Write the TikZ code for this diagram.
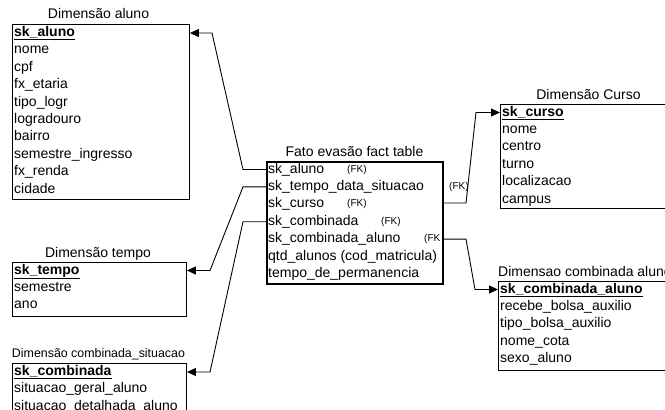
\documentclass[tikz,border=0pt]{standalone}
\usepackage{fontspec}
\setmainfont{Liberation Sans}
\usetikzlibrary{arrows.meta}
\tikzset{
  tbl/.style={draw, line width=0.9pt, rectangle, inner sep=0pt, anchor=north west},
  facttbl/.style={draw, line width=2pt, rectangle, inner sep=0pt, anchor=north west},
  row/.style={anchor=west, inner sep=0pt, text height=10pt, text depth=3pt, font=\fontsize{14}{16}\selectfont},
  ttl/.style={inner sep=0pt, text height=10pt, text depth=3pt, font=\fontsize{14}{16}\selectfont},
  fk/.style={anchor=west, inner sep=0pt, text height=7pt, text depth=2pt, font=\fontsize{10}{12}\selectfont},
  conn/.style={line width=0.9pt, -{Triangle[length=9pt,width=8pt]}},
}
\newcommand{\keyrow}[1]{\underline{\textbf{#1}}}
\begin{document}
\begin{tikzpicture}[x=1pt,y=-1pt]
\clip (0,0) rectangle (665,410);
\fill[white] (0,0) rectangle (665,410);

% ---------- Dimensao aluno ----------
\node[ttl] (alunottl) at (98.5,15) {Dimensão aluno};
\node[tbl, minimum width=177pt, minimum height=175pt] (aluno) at (12,24) {};
\node[row] (a1) at (14,33) {\keyrow{sk\_aluno}};
\node[row] (a2) at (14,50.4) {nome};
\node[row] (a3) at (14,67.8) {cpf};
\node[row] (a4) at (14,85.2) {fx\_etaria};
\node[row] (a5) at (14,102.6) {tipo\_logr};
\node[row] (a6) at (14,120) {logradouro};
\node[row] (a7) at (14,137.4) {bairro};
\node[row] (a8) at (14,154.8) {semestre\_ingresso};
\node[row] (a9) at (14,172.2) {fx\_renda};
\node[row] (a10) at (14,189.6) {cidade};

% ---------- Dimensao tempo ----------
\node[ttl] (tempottl) at (98,254) {Dimensão tempo};
\node[tbl, minimum width=174pt, minimum height=54pt] (tempo) at (12,262) {};
\node[row] (t1) at (14,270.5) {\keyrow{sk\_tempo}};
\node[row] (t2) at (14,287.9) {semestre};
\node[row] (t3) at (14,305.3) {ano};

% ---------- Dimensao combinada_situacao ----------
\node[ttl, font=\fontsize{12.4}{14}\selectfont] (sitttl) at (98.5,354) {Dimensão combinada\_situacao};
\node[tbl, minimum width=174pt, minimum height=70pt] (sit) at (12,363) {};
\node[row] (s1) at (14,372) {\keyrow{sk\_combinada}};
\node[row] (s2) at (14,389.4) {situacao\_geral\_aluno};
\node[row] (s3) at (14,406.8) {situacao\_detalhada\_aluno};

% ---------- Fato ----------
\node[ttl] (factttl) at (354.5,153) {Fato evasão fact table};
\node[facttbl, minimum width=176pt, minimum height=122pt] (fact) at (266,161) {};
\node[row] (f1) at (268,169.5) {sk\_aluno};
\node[row] (f2) at (268,186.9) {sk\_tempo\_data\_situacao};
\node[row] (f3) at (268,204.3) {sk\_curso};
\node[row] (f4) at (268,221.7) {sk\_combinada};
\node[row] (f5) at (268,239.1) {sk\_combinada\_aluno};
\node[row] (f6) at (268,256.5) {qtd\_alunos (cod\_matricula)};
\node[row] (f7) at (268,273.9) {tempo\_de\_permanencia};
\node[fk] (fk1) at (347,169.5) {(FK)};
\node[fk] (fk2) at (449,186.9) {(FK)};
\node[fk] (fk3) at (347,204.3) {(FK)};
\node[fk] (fk4) at (381,221.7) {(FK)};
\node[fk] (fk5) at (424,239.1) {(FK};

% ---------- Dimensao Curso ----------
\node[ttl] (cursottl) at (588.5,96) {Dimensão Curso};
\node[tbl, minimum width=190pt, minimum height=104pt] (curso) at (500,104) {};
\node[row] (c1) at (502,112.5) {\keyrow{sk\_curso}};
\node[row] (c2) at (502,129.9) {nome};
\node[row] (c3) at (502,147.3) {centro};
\node[row] (c4) at (502,164.7) {turno};
\node[row] (c5) at (502,182.1) {localizacao};
\node[row] (c6) at (502,199.5) {campus};

% ---------- Dimensao combinada aluno ----------
\node[ttl, anchor=west] (kttl) at (498,273) {Dimensao combinada aluno};
\node[tbl, minimum width=190pt, minimum height=89pt] (comb) at (498,281) {};
\node[row] (k1) at (500,289.5) {\keyrow{sk\_combinada\_aluno}};
\node[row] (k2) at (500,306.9) {recebe\_bolsa\_auxilio};
\node[row] (k3) at (500,324.3) {tipo\_bolsa\_auxilio};
\node[row] (k4) at (500,341.7) {nome\_cota};
\node[row] (k5) at (500,359.1) {sexo\_aluno};

% ---------- connectors ----------
\coordinate (j1a) at (243,169.5);
\coordinate (j1b) at (212,33);
\draw[conn] (fact.west |- f1) -- (j1a) -- (j1b) -- (aluno.east |- a1);

\coordinate (j2a) at (243,186.9);
\coordinate (j2b) at (210,270.5);
\draw[conn] (fact.west |- f2) -- (j2a) -- (j2b) -- (tempo.east |- t1);

\coordinate (j3a) at (243,221.7);
\coordinate (j3b) at (210,372);
\draw[conn] (fact.west |- f4) -- (j3a) -- (j3b) -- (sit.east |- s1);

\coordinate (j4a) at (466,203);
\coordinate (j4b) at (476,112.5);
\draw[conn] (fact.east |- j4a) -- (j4a) -- (j4b) -- (curso.west |- c1);

\coordinate (j5a) at (466,239.1);
\coordinate (j5b) at (475,289.5);
\draw[conn] (fact.east |- f5) -- (j5a) -- (j5b) -- (comb.west |- k1);
\end{tikzpicture}
\end{document}
